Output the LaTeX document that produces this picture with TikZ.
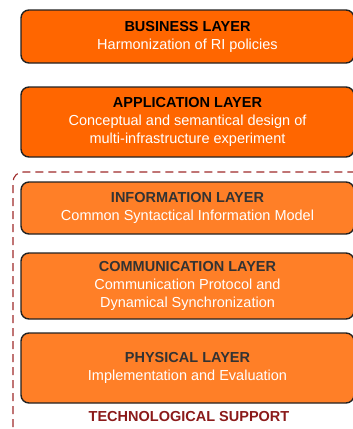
\documentclass[tikz,border=0pt]{standalone}
\usepackage{fontspec}
\setmainfont{Liberation Sans}
\definecolor{orangeA}{HTML}{FF6600}
\definecolor{orangeB}{HTML}{FF7F27}
\definecolor{edge}{HTML}{222222}
\definecolor{supportred}{HTML}{8B1A1A}
\definecolor{dashred}{HTML}{9E2A2A}
\tikzset{
  layerbox/.style={draw=edge, line width=1.4pt, rounded corners=8pt,
    minimum width=333pt, align=center, inner sep=0pt,
    font=\fontsize{14.5}{18}\selectfont, text=white},
  toplayer/.style={layerbox, fill=orangeA},
  lowlayer/.style={layerbox, fill=orangeB},
  ttl/.style={text=black}
}
\begin{document}
\begin{tikzpicture}[x=1pt,y=-1pt]
\useasboundingbox (0,0) rectangle (353,429);
\draw[dashred, line width=1.1pt, dash pattern=on 8pt off 5pt, rounded corners=10pt]
  (13,440) -- (13,172) -- (370,172);
\node[toplayer, minimum height=53pt] (business) at (187.5,36.5)
  {\textbf{\color{black}BUSINESS LAYER}\\Harmonization of RI policies};
\node[toplayer, minimum height=70pt] (application) at (187.5,122)
  {\textbf{\color{black}APPLICATION LAYER}\\Conceptual and semantical design of\\multi-infrastructure experiment};
\node[lowlayer, minimum height=52pt] (information) at (187.5,208)
  {\textbf{\color[HTML]{333333}INFORMATION LAYER}\\Common Syntactical Information Model};
\node[lowlayer, minimum height=66pt] (communication) at (187.5,286)
  {\textbf{\color[HTML]{333333}COMMUNICATION LAYER}\\Communication Protocol and\\Dynamical Synchronization};
\node[lowlayer, minimum height=70pt] (physical) at (187.5,368)
  {\textbf{\color[HTML]{333333}PHYSICAL LAYER}\\Implementation and Evaluation};
\node[font=\fontsize{14.5}{18}\selectfont\bfseries, text=supportred, inner sep=0pt] (support) at (189,417)
  {TECHNOLOGICAL SUPPORT};
\end{tikzpicture}
\end{document}
